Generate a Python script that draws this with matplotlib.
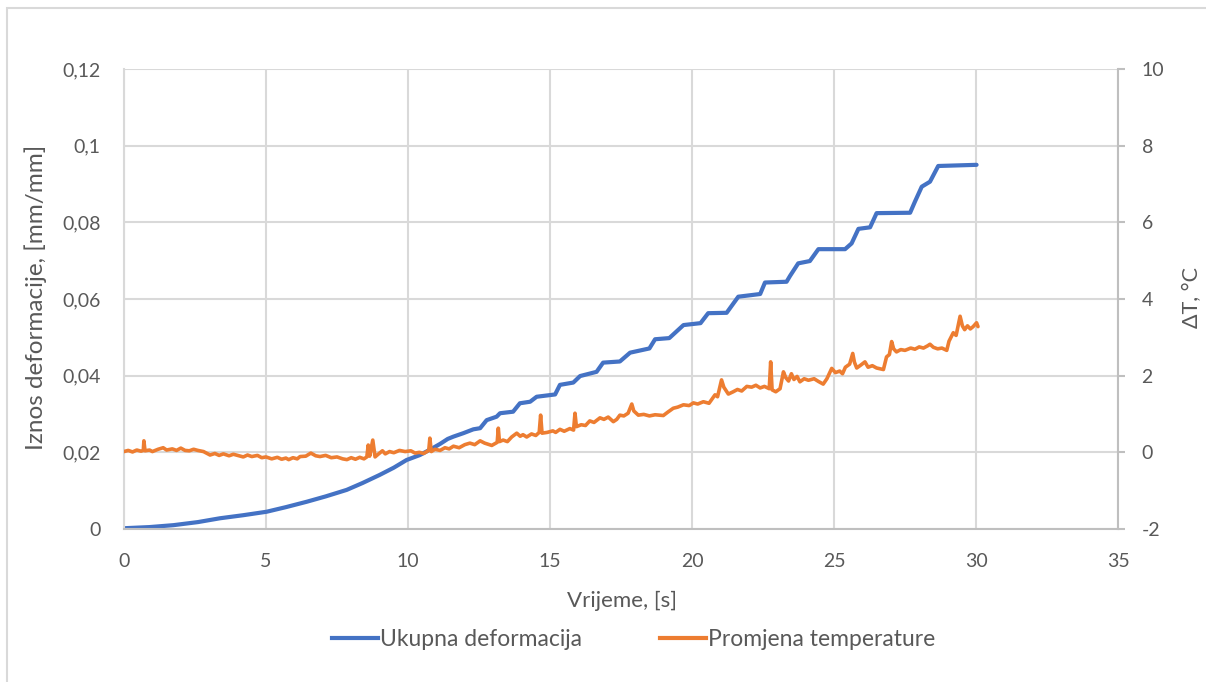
import matplotlib
matplotlib.use("Agg")
import matplotlib.pyplot as plt
from matplotlib.lines import Line2D
from matplotlib.patches import Rectangle
from matplotlib.ticker import FixedLocator, FuncFormatter

# --- data -------------------------------------------------------------
time_strain = [0.0, 0.9, 1.74, 2.6, 3.38, 4.2, 5.02, 5.7, 6.43, 7.1, 7.84, 8.4,
               9.0, 9.5, 9.95, 10.42, 10.8, 11.13, 11.4, 11.6, 11.95, 12.3, 12.54,
               12.77, 13.12, 13.24, 13.7, 13.94, 14.3, 14.53, 15.18, 15.35, 15.82,
               16.06, 16.64, 16.87, 17.46, 17.82, 18.5, 18.7, 19.2, 19.7, 20.3,
               20.57, 21.22, 21.63, 22.4, 22.57, 23.33, 23.45, 23.74, 24.15, 24.45,
               25.39, 25.62, 25.86, 26.27, 26.5, 27.68, 27.85, 28.09, 28.38, 28.67,
               30.02]
strain = [0.0002, 0.0005, 0.0010, 0.0018, 0.0028, 0.0036, 0.0045, 0.0057, 0.0071,
          0.0085, 0.0102, 0.0120, 0.0141, 0.0160, 0.0180, 0.0193, 0.0208, 0.0222,
          0.0235, 0.0241, 0.0250, 0.0260, 0.0263, 0.0284, 0.0293, 0.0302, 0.0306,
          0.0328, 0.0332, 0.0345, 0.0351, 0.0376, 0.0382, 0.0399, 0.0410, 0.0434,
          0.0437, 0.0460, 0.0471, 0.0495, 0.0498, 0.0532, 0.0537, 0.0563, 0.0564,
          0.0606, 0.0613, 0.0643, 0.0645, 0.0660, 0.0693, 0.0699, 0.0730, 0.0730,
          0.0745, 0.0783, 0.0787, 0.0824, 0.0825, 0.0854, 0.0893, 0.0906, 0.0947,
          0.0950]

# (time [s], temperature change [°C]) readings
temp_readings = [
    (0.0, 0.02), (0.15, 0.05), (0.3, 0.01), (0.45, 0.06), (0.6, 0.03), (0.68, 0.05),
    (0.70, 0.30), (0.74, 0.04), (0.9, 0.06), (1.0, 0.02), (1.2, 0.08), (1.38, 0.12),
    (1.5, 0.06), (1.7, 0.09), (1.85, 0.05), (2.0, 0.11), (2.15, 0.05), (2.3, 0.04),
    (2.45, 0.08), (2.6, 0.05), (2.8, 0.02), (3.03, -0.07), (3.2, -0.03), (3.35, -0.08),
    (3.5, -0.04), (3.7, -0.09), (3.85, -0.05), (4.0, -0.08), (4.2, -0.12), (4.35, -0.07),
    (4.5, -0.11), (4.7, -0.08), (4.85, -0.14), (5.0, -0.12), (5.2, -0.17), (5.4, -0.13),
    (5.55, -0.18), (5.7, -0.15), (5.8, -0.19), (5.95, -0.14), (6.1, -0.17), (6.2, -0.11),
    (6.4, -0.10), (6.58, -0.02), (6.75, -0.09), (6.9, -0.11), (7.1, -0.08), (7.3, -0.14),
    (7.5, -0.12), (7.7, -0.17), (7.85, -0.19), (8.0, -0.14), (8.15, -0.18), (8.3, -0.13),
    (8.45, -0.17), (8.55, -0.12), (8.6, 0.19), (8.65, -0.10), (8.76, 0.32), (8.84, -0.12),
    (8.95, -0.05), (9.1, 0.04), (9.2, -0.04), (9.35, 0.02), (9.5, -0.01), (9.7, 0.05),
    (9.9, 0.02), (10.1, 0.04), (10.25, -0.02), (10.4, 0.0), (10.55, -0.03), (10.73, 0.05),
    (10.77, 0.37), (10.82, 0.02), (10.95, 0.08), (11.13, 0.05), (11.3, 0.12), (11.45, 0.09),
    (11.6, 0.16), (11.8, 0.12), (12.0, 0.20), (12.18, 0.24), (12.35, 0.20), (12.54, 0.30),
    (12.7, 0.24), (12.95, 0.18), (13.14, 0.26), (13.18, 0.63), (13.22, 0.28), (13.35, 0.32),
    (13.5, 0.28), (13.65, 0.40), (13.83, 0.50), (13.95, 0.42), (14.05, 0.46), (14.18, 0.40),
    (14.35, 0.48), (14.5, 0.44), (14.62, 0.52), (14.67, 0.97), (14.72, 0.50), (14.9, 0.52),
    (15.1, 0.56), (15.2, 0.52), (15.35, 0.60), (15.5, 0.55), (15.7, 0.62), (15.83, 0.58),
    (15.88, 1.02), (15.93, 0.67), (16.1, 0.72), (16.25, 0.70), (16.4, 0.82), (16.55, 0.78),
    (16.76, 0.90), (16.9, 0.86), (17.05, 0.92), (17.23, 0.80), (17.35, 0.86), (17.46, 0.97),
    (17.6, 0.95), (17.75, 1.02), (17.88, 1.26), (17.95, 1.08), (18.11, 0.97), (18.3, 0.99),
    (18.5, 0.95), (18.7, 0.98), (18.99, 0.96), (19.15, 1.05), (19.34, 1.15), (19.5, 1.18),
    (19.7, 1.24), (19.9, 1.22), (20.05, 1.29), (20.2, 1.26), (20.4, 1.32), (20.6, 1.28),
    (20.81, 1.50), (20.9, 1.45), (21.04, 1.89), (21.12, 1.70), (21.28, 1.52), (21.45, 1.58),
    (21.6, 1.64), (21.75, 1.60), (21.93, 1.72), (22.1, 1.70), (22.25, 1.75), (22.4, 1.68),
    (22.55, 1.72), (22.72, 1.66), (22.77, 2.36), (22.82, 1.63), (22.95, 1.58), (23.1, 1.66),
    (23.22, 2.10), (23.3, 1.95), (23.4, 1.86), (23.5, 2.05), (23.59, 1.90), (23.7, 1.98),
    (23.8, 1.84), (23.95, 1.92), (24.1, 1.88), (24.3, 1.92), (24.45, 1.85), (24.62, 1.78),
    (24.75, 1.92), (24.92, 2.19), (25.05, 2.08), (25.2, 2.12), (25.3, 2.05), (25.4, 2.22),
    (25.55, 2.30), (25.66, 2.58), (25.72, 2.35), (25.8, 2.20), (25.95, 2.28), (26.09, 2.36),
    (26.2, 2.22), (26.35, 2.26), (26.5, 2.20), (26.74, 2.16), (26.85, 2.49), (26.95, 2.55),
    (27.03, 2.89), (27.1, 2.70), (27.2, 2.62), (27.35, 2.68), (27.5, 2.66), (27.7, 2.72),
    (27.85, 2.69), (28.0, 2.75), (28.15, 2.72), (28.3, 2.78), (28.38, 2.82), (28.5, 2.74),
    (28.65, 2.70), (28.8, 2.72), (28.97, 2.66), (29.05, 2.90), (29.2, 3.12), (29.3, 3.05),
    (29.44, 3.55), (29.52, 3.30), (29.6, 3.20), (29.7, 3.30), (29.8, 3.22), (29.9, 3.28),
    (30.02, 3.38), (30.07, 3.28),
]
time_temp = [t for t, _ in temp_readings]
delta_t = [d for _, d in temp_readings]

x_ticks = [0, 5, 10, 15, 20, 25, 30, 35]
left_ticks = [0, 0.02, 0.04, 0.06, 0.08, 0.1, 0.12]
right_ticks = [-2, 0, 2, 4, 6, 8, 10]

series_names = ["Ukupna deformacija", "Promjena temperature"]
x_title = "Vrijeme, [s]"
left_title = "Iznos deformacije, [mm/mm]"
right_title = "ΔT, °C"

# --- style ------------------------------------------------------------
plt.rcParams["font.family"] = ["Lato", "DejaVu Sans"]
plt.rcParams["axes.unicode_minus"] = False

BLUE = "#4472C4"
ORANGE = "#ED7D31"
TEXT = "#595959"
GRID = "#D9D9D9"
AXIS = "#BFBFBF"

W, H = 1206, 682
fig = plt.figure(figsize=(W / 100, H / 100), dpi=100)
fig.patch.set_facecolor("white")

# outer chart frame
fig.patches.append(Rectangle((7 / W, -0.02), 1.05, (H - 8) / H + 0.02,
                             transform=fig.transFigure, fill=False,
                             edgecolor="#D9D9D9", linewidth=1.5))

ax = fig.add_axes([124 / W, (H - 529) / H, (1118 - 124) / W, (529 - 69) / H])
ax.set_xlim(0, 35)
ax.set_ylim(0, 0.12)
ax.xaxis.set_major_locator(FixedLocator(x_ticks))
ax.yaxis.set_major_locator(FixedLocator(left_ticks))
ax.yaxis.set_major_formatter(FuncFormatter(lambda v, p: f"{v:g}".replace(".", ",")))
ax.grid(True, color=GRID, linewidth=1.5)
ax.set_axisbelow(True)

for side in ("top", "right"):
    ax.spines[side].set_visible(False)
ax.spines["left"].set_color(GRID)
ax.spines["left"].set_linewidth(1.5)
ax.spines["bottom"].set_color(AXIS)
ax.spines["bottom"].set_linewidth(1.5)

ax.tick_params(axis="both", length=0, labelsize=14, labelcolor=TEXT)
ax.tick_params(axis="y", pad=17)
ax.tick_params(axis="x", pad=17)

ax.plot(time_strain, strain, color=BLUE, linewidth=3.0,
        solid_joinstyle="round", solid_capstyle="round")

ax2 = ax.twinx()
ax2.set_ylim(-2, 10)
ax2.yaxis.set_major_locator(FixedLocator(right_ticks))
ax2.yaxis.set_major_formatter(FuncFormatter(lambda v, p: f"{v:g}"))
for side in ("top", "left", "bottom"):
    ax2.spines[side].set_visible(False)
ax2.spines["right"].set_color(AXIS)
ax2.spines["right"].set_linewidth(1.5)
ax2.tick_params(axis="y", length=5, width=1.5, color=AXIS, pad=12,
                labelsize=14, labelcolor=TEXT)
ax2.plot(time_temp, delta_t, color=ORANGE, linewidth=2.6,
         solid_joinstyle="round", solid_capstyle="round")

# axis titles
fig.text(622 / W, (H - 601) / H, x_title, fontsize=16, color=TEXT,
         ha="center", va="center")
fig.text(36 / W, (H - 297) / H, left_title, fontsize=17.5, color=TEXT,
         ha="center", va="center", rotation=90)
fig.text(1192 / W, (H - 298) / H, right_title, fontsize=15.5, color=TEXT,
         ha="center", va="center", rotation=90)

handles = [Line2D([], [], color=BLUE, linewidth=3.0),
           Line2D([], [], color=ORANGE, linewidth=3.0)]
leg = fig.legend(handles, series_names, loc="center",
                 bbox_to_anchor=(634 / W, (H - 640) / H), ncol=2,
                 frameon=False, fontsize=16.5, handlelength=2.0,
                 handletextpad=0.1, columnspacing=3.4)
for t in leg.get_texts():
    t.set_color(TEXT)

fig.savefig("out.png", dpi=100, facecolor="white")
